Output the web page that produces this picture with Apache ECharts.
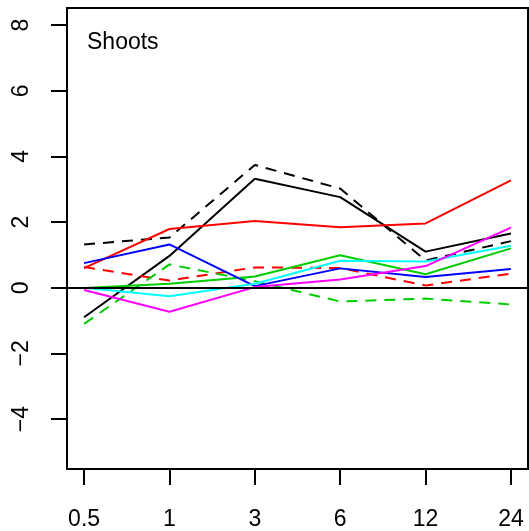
<!DOCTYPE html>
<html>
<head>
<meta charset="utf-8">
<script src="https://cdn.jsdelivr.net/npm/echarts@6/dist/echarts.min.js"></script>
<style>
  html, body { margin: 0; padding: 0; background: #fff; }
  #chart { width: 529px; height: 531px; }
</style>
</head>
<body>
<div id="chart"></div>
<script>
// Time points (h), shown as evenly spaced categories
const timePoints = ['0.5', '1', '3', '6', '12', '24'];
const yTicks = [-4, -2, 0, 2, 4, 6, 8];

// Log2 fold change per gene, shoots
const blackSolid  = [-0.90, 0.97, 3.32, 2.76, 1.10, 1.65];
const blackDashed = [1.32, 1.53, 3.74, 3.02, 0.83, 1.42];
const redSolid    = [0.60, 1.79, 2.03, 1.84, 1.96, 3.27];
const redDashed   = [0.63, 0.22, 0.62, 0.60, 0.07, 0.43];
const greenSolid  = [-0.01, 0.12, 0.34, 0.99, 0.41, 1.20];
const greenDashed = [-1.10, 0.71, 0.20, -0.42, -0.33, -0.51];
const blueSolid   = [0.75, 1.32, 0.05, 0.59, 0.33, 0.57];
const cyanSolid   = [0.00, -0.26, 0.12, 0.82, 0.80, 1.28];
const magentaSolid= [-0.07, -0.73, 0.02, 0.25, 0.66, 1.83];

const FONT = '"Liberation Sans", Arial, Helvetica, sans-serif';

function line(name, values, color, dashed) {
  return {
    name: name,
    type: 'line',
    data: values.map((v, i) => [i + 1, v]),
    symbol: 'none',
    silent: true,
    lineStyle: { color: color, width: 2, type: dashed ? [11, 8] : 'solid', cap: 'butt' },
    z: 3
  };
}

const series = [
  line('black', blackSolid, '#000000', false),
  line('black dashed', blackDashed, '#000000', true),
  line('red', redSolid, '#FF0000', false),
  line('red dashed', redDashed, '#FF0000', true),
  line('green', greenSolid, '#00CD00', false),
  line('green dashed', greenDashed, '#00CD00', true),
  line('blue', blueSolid, '#0000FF', false),
  line('cyan', cyanSolid, '#00FFFF', false),
  line('magenta', magentaSolid, '#FF00FF', false)
];

// horizontal reference at zero
series[0].markLine = {
  silent: true,
  symbol: 'none',
  label: { show: false },
  lineStyle: { color: '#000', width: 2, type: 'solid' },
  data: [{ yAxis: 0 }]
};

const chart = echarts.init(document.getElementById('chart'), null, { renderer: 'canvas' });
chart.setOption({
  animation: false,
  backgroundColor: '#ffffff',
  grid: {
    left: 67, right: 1, top: 8, bottom: 62,
    show: true, borderColor: '#000', borderWidth: 2, backgroundColor: 'transparent'
  },
  title: {
    text: 'Shoots',
    left: 82, top: 26,
    textStyle: { fontFamily: FONT, fontSize: 23, fontWeight: 'normal', color: '#000' }
  },
  xAxis: {
    type: 'value',
    min: 0.8, max: 6.2,
    splitLine: { show: false },
    axisLine: { show: true, onZero: false, lineStyle: { color: '#000', width: 2 } },
    axisTick: { show: true, length: 16, customValues: timePoints.map((_, i) => i + 1),
                lineStyle: { color: '#000', width: 2 } },
    axisLabel: {
      customValues: timePoints.map((_, i) => i + 1),
      formatter: v => timePoints[Math.round(v) - 1],
      margin: 39,
      fontFamily: FONT, fontSize: 23, color: '#000'
    }
  },
  yAxis: {
    type: 'value',
    min: -5.52, max: 8.52,
    splitLine: { show: false },
    axisLine: { show: true, onZero: false, lineStyle: { color: '#000', width: 2 } },
    axisTick: { show: true, length: 16, customValues: yTicks,
                lineStyle: { color: '#000', width: 2 } },
    axisLabel: {
      customValues: yTicks,
      rotate: 90,
      margin: 34,
      formatter: v => String(v).replace('-', '\u2212'),
      fontFamily: FONT, fontSize: 23, color: '#000'
    }
  },
  series: series
});
</script>
</body>
</html>
